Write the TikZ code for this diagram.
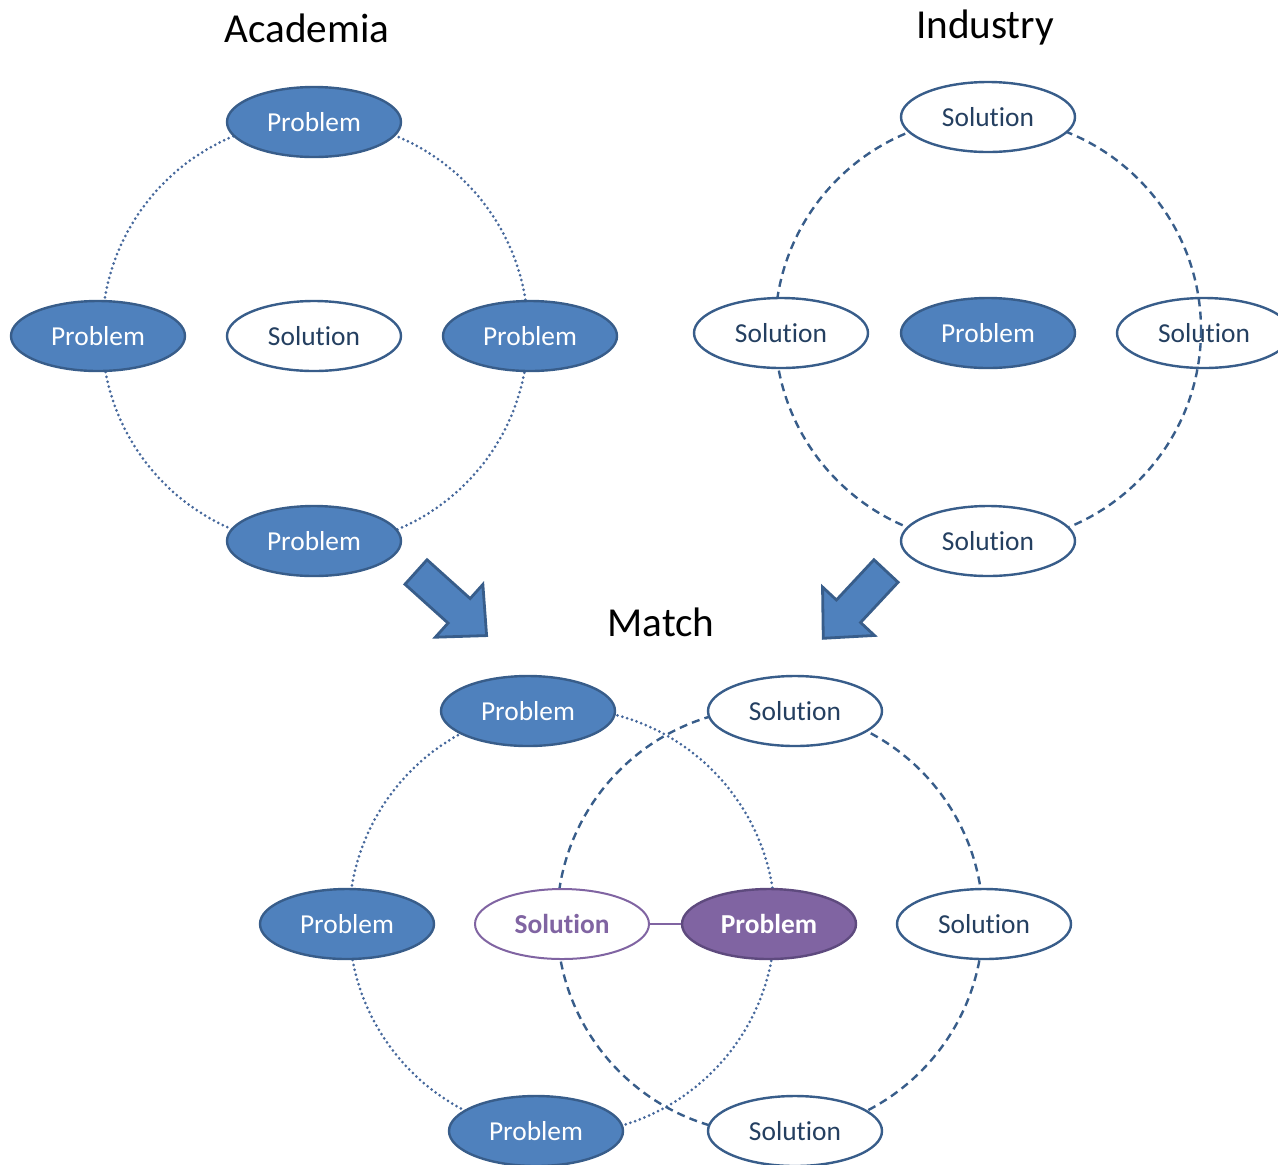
\documentclass[tikz,border=0pt]{standalone}
\usepackage{fontspec}
\setmainfont{Carlito}[Ligatures={NoCommon}]
\usetikzlibrary{shapes.geometric, positioning}

\definecolor{probblue}{HTML}{4F81BD}
\definecolor{probedge}{HTML}{385D8A}
\definecolor{soltext}{HTML}{243F60}
\definecolor{ringblue}{HTML}{46689C}
\definecolor{matchfill}{HTML}{8064A2}
\definecolor{matchedge}{HTML}{5E4A7E}

\tikzset{
  blob/.style={ellipse, minimum width=87pt, minimum height=35pt, inner sep=0pt,
    line width=1.2pt, font=\fontsize{13.7}{16}\selectfont},
  problem/.style={blob, draw=probedge, fill=probblue, text=white},
  solution/.style={blob, draw=probedge, fill=white, text=soltext},
  mproblem/.style={blob, draw=matchedge, fill=matchfill, text=white, font=\fontsize{13.7}{16}\selectfont\bfseries},
  msolution/.style={blob, draw=matchfill, fill=white, text=matchfill, line width=1pt, font=\fontsize{13.7}{16}\selectfont\bfseries},
  title/.style={font=\fontsize{20.6}{24}\selectfont, text=black},
  dotring/.style={draw=ringblue, line width=1.5pt, line cap=round, dash pattern=on 0pt off 2.5pt},
  dashring/.style={draw=probedge, line width=1.2pt, dash pattern=on 4pt off 2.6pt},
  bigarrow/.style={draw=probedge, fill=probblue, line width=1.4pt, line join=miter}
}

\begin{document}
\begin{tikzpicture}[x=0.5pt, y=-0.5pt]
  \useasboundingbox (0,0) rectangle (1278,1164);
  \def\rad{213}

  % Titles
  \node[title] (tacad) at (307,28) {Academia};
  \node[title] (tind) at (985,28) {Industry};
  \node[title] (tmatch) at (661,622) {Match};

  % Academia: problems on the ring, solution inside
  \draw[dotring] (315,333) circle (\rad);
  \node[problem] (a1) at (314,122) {Problem};
  \node[problem] (a2) at (98,336) {Problem};
  \node[solution] (a0) at (314,336) {Solution};
  \node[problem] (a3) at (530,336) {Problem};
  \node[problem] (a4) at (314,541) {Problem};

  % Industry: solutions on the ring, problem inside
  \node[solution, fill=none] (i3) at (1204,333) {Solution};
  \draw[dashring] (988,330) circle (\rad);
  \node[solution] (i1) at (988,117) {Solution};
  \node[solution] (i2) at (781,333) {Solution};
  \node[problem] (i0) at (988,333) {Problem};
  \node[solution] (i4) at (988,541) {Solution};

  % Block arrows into the match
  \begin{scope}[shift={(416,572)}, rotate=-42]
    \draw[bigarrow] (0,-16.5) -- (58,-16.5) -- (58,-35.5) -- (95,0)
      -- (58,35.5) -- (58,16.5) -- (0,16.5) -- cycle;
  \end{scope}
  \begin{scope}[shift={(886,571)}, rotate=-133]
    \draw[bigarrow] (0,-16.5) -- (55,-16.5) -- (55,-35.5) -- (92,0)
      -- (55,35.5) -- (55,16.5) -- (0,16.5) -- cycle;
  \end{scope}

  % Match: both rings overlap
  \draw[dotring] (562,921) circle (\rad);
  \draw[dashring] (770,921) circle (\rad);
  \node[problem] (m1) at (528,711) {Problem};
  \node[solution] (m2) at (795,711) {Solution};
  \node[problem] (m3) at (347,924) {Problem};
  \node[msolution] (ms) at (562,924) {Solution};
  \node[mproblem] (mp) at (769,924) {Problem};
  \node[solution] (m4) at (984,924) {Solution};
  \node[problem] (m5) at (536,1131) {Problem};
  \node[solution] (m6) at (795,1131) {Solution};
  \draw[draw=matchfill, line width=1pt] (ms) -- (mp);

\end{tikzpicture}
\end{document}
